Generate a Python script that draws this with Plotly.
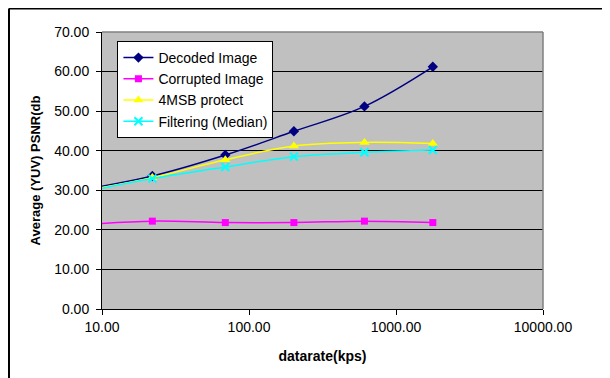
import plotly.graph_objects as go

datarate = [7.3, 22, 69, 202, 610, 1780]
decoded = [30.1, 33.6, 38.9, 44.9, 51.2, 61.2]
corrupted = [21.3, 22.2, 21.85, 21.85, 22.2, 21.85]
msb4 = [29.8, 33.2, 37.7, 41.2, 42.1, 41.8]
filtering = [29.5, 32.95, 35.9, 38.5, 39.6, 40.2]

x_ticks = [10, 100, 1000, 10000]
x_ticktext = ["10.00", "100.00", "1000.00", "10000.00"]
y_ticks = [0, 10, 20, 30, 40, 50, 60, 70]

FONT = "Arial, Liberation Sans, sans-serif"

fig = go.Figure()
fig.add_trace(go.Scatter(x=datarate, y=decoded, name="Decoded Image", mode="lines+markers",
                         line=dict(color="#000080", width=1.5, shape="spline"),
                         marker=dict(symbol="diamond", size=8, color="#000080")))
fig.add_trace(go.Scatter(x=datarate, y=corrupted, name="Corrupted Image", mode="lines+markers",
                         line=dict(color="#FF00FF", width=1.5, shape="spline"),
                         marker=dict(symbol="square", size=7, color="#FF00FF")))
fig.add_trace(go.Scatter(x=datarate, y=msb4, name="4MSB protect", mode="lines+markers",
                         line=dict(color="#FFFF00", width=1.5, shape="spline"),
                         marker=dict(symbol="triangle-up", size=9, color="#FFFF00")))
fig.add_trace(go.Scatter(x=datarate, y=filtering, name="Filtering (Median)", mode="lines+markers",
                         line=dict(color="#00FFFF", width=1.5, shape="spline"),
                         marker=dict(symbol="x-thin-open", size=8, color="#00FFFF",
                                     line=dict(color="#00FFFF", width=2))))

fig.update_layout(
    width=602, height=370,
    margin=dict(l=94, r=67, t=24, b=69, pad=0, autoexpand=False),
    paper_bgcolor="white",
    plot_bgcolor="#C0C0C0",
    font=dict(family=FONT, color="black", size=14),
    showlegend=True,
    legend=dict(x=0.035, y=0.9675, xanchor="left", yanchor="top",
                bgcolor="white", bordercolor="black", borderwidth=1,
                font=dict(family=FONT, size=14, color="black"),
                tracegroupgap=0, itemwidth=30),
    xaxis=dict(type="log", range=[1, 4], tickvals=x_ticks, ticktext=x_ticktext,
               automargin=False,
               showgrid=False, zeroline=False, showline=True, linecolor="black", linewidth=1,
               ticks="outside", ticklen=5, tickcolor="black", tickwidth=1,
               tickfont=dict(family=FONT, size=14, color="black"),
               title=dict(text="<b>datarate(kps)</b>", font=dict(family=FONT, size=14, color="black"),
                          standoff=17)),
    yaxis=dict(range=[0, 70], tickvals=y_ticks, tickformat=".2f",
               automargin=False, ticklabelstandoff=4,
               showgrid=True, gridcolor="black", gridwidth=1,
               zeroline=False, showline=True, linecolor="black", linewidth=1,
               ticks="outside", ticklen=5, tickcolor="black", tickwidth=1,
               tickfont=dict(family=FONT, size=14, color="black"),
               title=dict(text="<b>Average (YUV) PSNR(db</b>", font=dict(family=FONT, size=13, color="black"),
                          standoff=10)),
    shapes=[
        dict(type="line", xref="paper", yref="paper", x0=0, x1=1, y0=1, y1=1,
             line=dict(color="#808080", width=1.5)),
        dict(type="line", xref="paper", yref="paper", x0=1, x1=1, y0=0, y1=1,
             line=dict(color="#808080", width=1.5)),
        dict(type="line", xref="paper", yref="paper", x0=-0.2109, x1=1.2, y0=1.0848, y1=1.0848,
             line=dict(color="black", width=2)),
        dict(type="line", xref="paper", yref="paper", x0=-0.2109, x1=-0.2109, y0=-0.3, y1=1.0848,
             line=dict(color="black", width=2)),
    ],
)

fig.write_html("out.html")
